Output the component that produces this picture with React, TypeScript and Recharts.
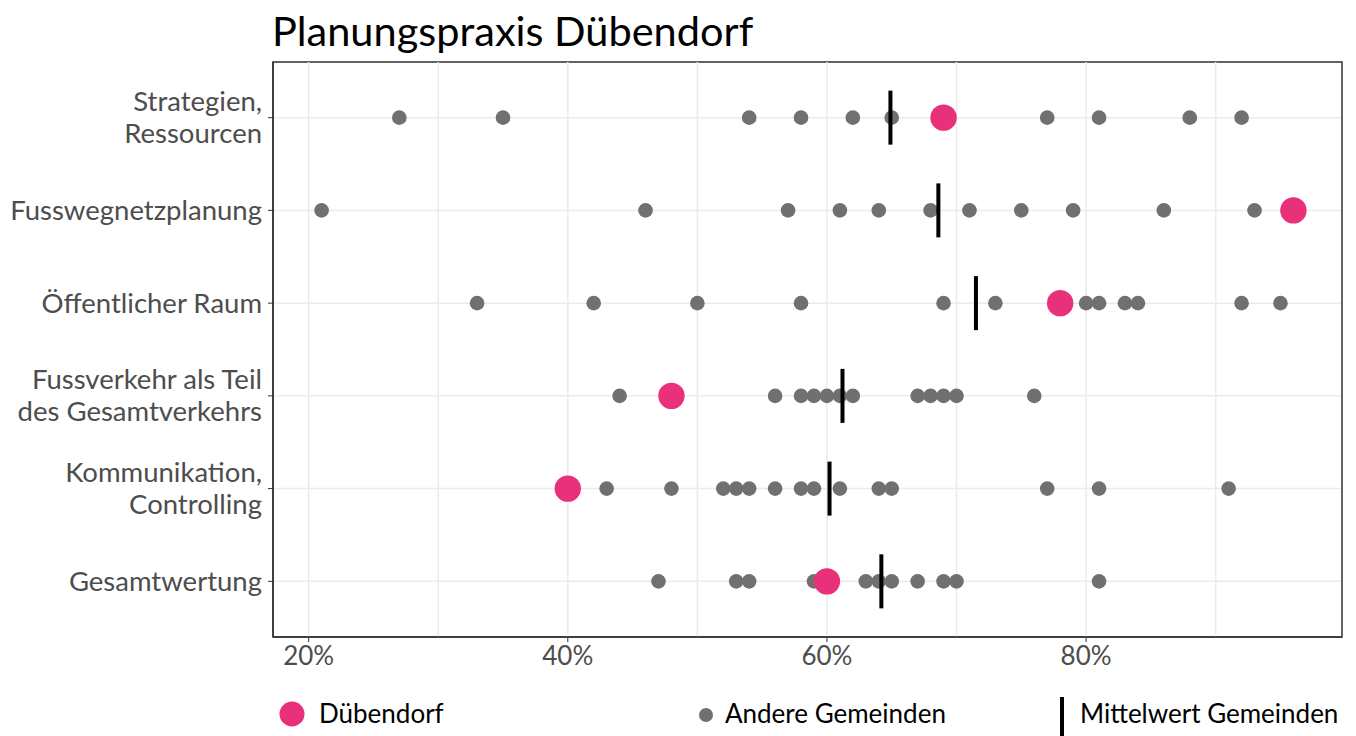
import React from "react";
import { CartesianGrid, ReferenceArea, ReferenceLine, Scatter, ScatterChart, XAxis, YAxis } from "recharts";

const CATEGORIES = [
  "Strategien,\nRessourcen",
  "Fusswegnetzplanung",
  "Öffentlicher Raum",
  "Fussverkehr als Teil\ndes Gesamtverkehrs",
  "Kommunikation,\nControlling",
  "Gesamtwertung",
];

// other municipalities, one list per category (percent)
const OTHERS = [
  [27, 35, 54, 58, 62, 65, 77, 81, 88, 92],
  [21, 46, 57, 61, 64, 68, 71, 75, 79, 86, 93],
  [33, 42, 50, 58, 69, 73, 80, 81, 83, 84, 92, 95],
  [44, 56, 58, 59, 60, 61, 62, 67, 68, 69, 70, 76],
  [43, 48, 52, 53, 54, 56, 58, 59, 61, 64, 65, 77, 81, 91],
  [47, 53, 54, 59, 63, 64, 65, 67, 69, 70, 81],
];
const DUEBENDORF = [69, 96, 78, 48, 40, 60];
const MEANS = [64.9, 68.6, 71.5, 61.2, 60.2, 64.2];

const X_TICKS = [20, 40, 60, 80];
const X_GRID = [20, 30, 40, 50, 60, 70, 80, 90];
const X_DOMAIN = [17.25, 99.75];
const Y_DOMAIN = [0.4, 6.6];

const PINK = "#E8317A";
const GREY = "#707070";
const FONT = "Lato, 'Noto Sans', sans-serif";

const rowOf = (i: number) => CATEGORIES.length - i;

const othersData = OTHERS.flatMap((vals, i) => vals.map((v) => ({ x: v, y: rowOf(i) })));
const duebData = DUEBENDORF.map((v, i) => ({ x: v, y: rowOf(i) }));
const meanData = MEANS.map((v, i) => ({ x: v, y: rowOf(i) }));

function YTick(props: any) {
  const { x, y, payload } = props;
  const label = CATEGORIES[CATEGORIES.length - payload.value] ?? "";
  const lines = label.split("\n");
  const lh = 32;
  return (
    <text x={x} y={y} textAnchor="end" fill="#4D4D4D" fontSize={27.5} fontFamily={FONT}>
      {lines.map((l, i) => (
        <tspan key={i} x={x} dy={i === 0 ? -((lines.length - 1) * lh) / 2 + 9.5 : lh}>
          {l}
        </tspan>
      ))}
    </text>
  );
}

const dot = (r: number, fill: string) => (p: any) => <circle cx={p.cx} cy={p.cy} r={r} fill={fill} />;
const meanBar = (p: any) => <rect x={p.cx - 2} y={p.cy - 27} width={4} height={54} fill="#000" />;

export default function App() {
  return (
    <div style={{ position: "fixed", left: 0, top: 0, width: 1356, height: 736, background: "#fff", fontFamily: FONT }}>
      <ScatterChart width={1356} height={736} margin={{ top: 62, right: 14, bottom: 50, left: 8 }}>
        <CartesianGrid vertical={false} stroke="#EBEBEB" strokeWidth={1.5} />
        {X_GRID.map((g) => (
          <ReferenceLine key={g} x={g} stroke="#EBEBEB" strokeWidth={1.5} />
        ))}
        <ReferenceArea
          x1={X_DOMAIN[0]}
          x2={X_DOMAIN[1]}
          y1={Y_DOMAIN[0]}
          y2={Y_DOMAIN[1]}
          fill="none"
          fillOpacity={0}
          stroke="#333333"
          strokeWidth={1.5}
          strokeOpacity={1}
          ifOverflow="visible"
        />
        <XAxis
          type="number"
          dataKey="x"
          domain={X_DOMAIN}
          ticks={X_TICKS}
          allowDataOverflow
          tickFormatter={(v) => `${v}%`}
          tick={{ fill: "#4D4D4D", fontSize: 26, fontFamily: FONT }}
          tickSize={5}
          tickMargin={5}
          height={49}
          stroke="#333333"
          axisLine={{ stroke: "#333333", strokeWidth: 1.5 }}
        />
        <YAxis
          type="number"
          dataKey="y"
          domain={Y_DOMAIN}
          ticks={[1, 2, 3, 4, 5, 6]}
          allowDataOverflow
          tick={<YTick />}
          tickSize={5}
          tickMargin={6}
          width={265}
          stroke="#333333"
          axisLine={{ stroke: "#333333", strokeWidth: 1.5 }}
        />
        <Scatter data={othersData} shape={dot(7.3, GREY)} isAnimationActive={false} />
        <Scatter data={meanData} shape={meanBar} isAnimationActive={false} />
        <Scatter data={duebData} shape={dot(13.2, PINK)} isAnimationActive={false} />
      </ScatterChart>
      <svg width={1356} height={736} style={{ position: "absolute", left: 0, top: 0, pointerEvents: "none" }}>
        <text x={272} y={46} fontSize={41.5} fill="#000" fontFamily={FONT}>
          Planungspraxis Dübendorf
        </text>
        <circle cx={292} cy={714} r={12.5} fill={PINK} />
        <text x={319} y={723} fontSize={26} fill="#000" fontFamily={FONT}>
          Dübendorf
        </text>
        <circle cx={706} cy={715} r={7} fill={GREY} />
        <text x={725} y={723} fontSize={26} fill="#000" fontFamily={FONT}>
          Andere Gemeinden
        </text>
        <rect x={1060} y={697} width={4} height={39} fill="#000" />
        <text x={1080} y={723} fontSize={26} fill="#000" fontFamily={FONT}>
          Mittelwert Gemeinden
        </text>
      </svg>
    </div>
  );
}
